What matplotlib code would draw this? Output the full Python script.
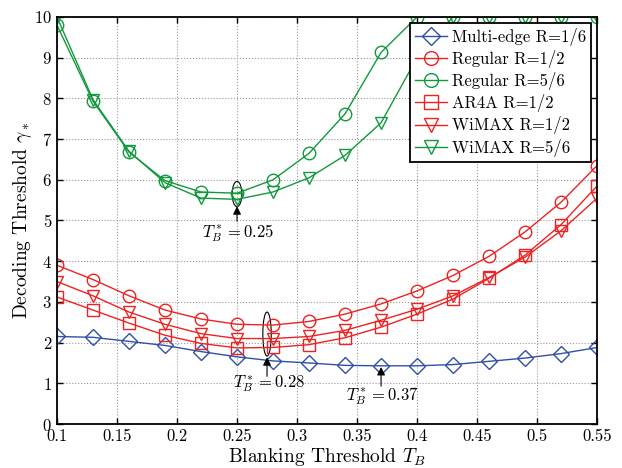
import matplotlib
matplotlib.use('Agg')
import matplotlib.pyplot as plt
from matplotlib.patches import Ellipse

plt.rcParams['font.family'] = 'serif'
plt.rcParams['font.serif'] = ['cmr10']
plt.rcParams['mathtext.fontset'] = 'cm'
plt.rcParams['axes.formatter.use_mathtext'] = True

# blanking threshold values
t_b = [0.10, 0.13, 0.16, 0.19, 0.22, 0.25, 0.28, 0.31, 0.34, 0.37, 0.40, 0.43, 0.46, 0.49, 0.52, 0.55]

multi_edge_16 = [2.15, 2.13, 2.03, 1.93, 1.78, 1.65, 1.55, 1.50, 1.44, 1.43, 1.43, 1.46, 1.54, 1.62, 1.73, 1.88]
regular_12 = [3.90, 3.55, 3.15, 2.80, 2.58, 2.45, 2.43, 2.52, 2.70, 2.95, 3.27, 3.65, 4.12, 4.72, 5.45, 6.35]
regular_56 = [9.80, 7.93, 6.68, 5.98, 5.70, 5.67, 6.00, 6.65, 7.62, 9.13, 10.0, 10.0, 10.0, 10.0, 10.0, 10.0]
ar4a_12 = [3.12, 2.80, 2.48, 2.18, 1.98, 1.87, 1.88, 1.95, 2.12, 2.38, 2.70, 3.07, 3.58, 4.15, 4.90, 5.85]
wimax_12 = [3.50, 3.15, 2.75, 2.45, 2.22, 2.10, 2.10, 2.15, 2.30, 2.55, 2.82, 3.15, 3.60, 4.10, 4.75, 5.55]
wimax_56 = [10.0, 7.97, 6.70, 5.93, 5.55, 5.52, 5.70, 6.05, 6.60, 7.40, 9.00, 10.0, 10.0, 10.0, 10.0, 10.0]

blue = '#3050A8'
red = '#EE2222'
green = '#12993E'

fig = plt.figure(figsize=(6.22, 4.68), dpi=100)
ax = fig.add_axes([0.0916, 0.094, 0.8684, 0.8697])

mk = dict(markersize=9, markerfacecolor='none', linewidth=1.0, markeredgewidth=1.0)
ax.plot(t_b, multi_edge_16, color=blue, marker='D', label='Multi-edge R=1/6', markersize=8,
        markerfacecolor='none', linewidth=1.0, markeredgewidth=1.0)
ax.plot(t_b, regular_12, color=red, marker='o', label='Regular R=1/2', **mk)
ax.plot(t_b, regular_56, color=green, marker='o', label='Regular R=5/6', **mk)
ax.plot(t_b, ar4a_12, color=red, marker='s', label='AR4A R=1/2', **mk)
ax.plot(t_b, wimax_12, color=red, marker='v', label='WiMAX R=1/2', **mk)
ax.plot(t_b, wimax_56, color=green, marker='v', label='WiMAX R=5/6', **mk)

# annotations for optimum thresholds
arr = dict(arrowstyle='-|>', color='k', lw=0.8, mutation_scale=12, shrinkA=0, shrinkB=0)
ax.add_patch(Ellipse((0.25, 5.65), 0.008, 0.62, fill=False, color='k', lw=0.8))
ax.annotate('', xy=(0.25, 5.35), xytext=(0.25, 4.98), arrowprops=arr)
ax.text(0.251, 4.69, r'$T_B^* = 0.25$', ha='center', va='center', fontsize=12)

ax.add_patch(Ellipse((0.275, 2.21), 0.007, 1.08, fill=False, color='k', lw=0.8))
ax.annotate('', xy=(0.275, 1.64), xytext=(0.275, 1.17), arrowprops=arr)
ax.text(0.277, 0.96, r'$T_B^* = 0.28$', ha='center', va='center', fontsize=12)

ax.annotate('', xy=(0.37, 1.4), xytext=(0.37, 0.93), arrowprops=arr)
ax.text(0.371, 0.67, r'$T_B^* = 0.37$', ha='center', va='center', fontsize=12)

ax.set_xlim(0.1, 0.55)
ax.set_ylim(0, 10)
ax.set_xticks([0.1, 0.15, 0.2, 0.25, 0.3, 0.35, 0.4, 0.45, 0.5, 0.55])
ax.set_xticklabels(['0.1', '0.15', '0.2', '0.25', '0.3', '0.35', '0.4', '0.45', '0.5', '0.55'])
ax.set_yticks(range(0, 11))
ax.tick_params(direction='in', top=True, right=True, labelsize=12, length=4, width=1.0)
for s in ax.spines.values():
    s.set_linewidth(1.3)
ax.grid(True, linestyle=':', color='#999999', linewidth=0.8)
ax.set_xlabel(r'Blanking Threshold $T_B$', fontsize=14, labelpad=1)
ax.set_ylabel(r'Decoding Threshold $\gamma_*$', fontsize=14, labelpad=0)

leg = ax.legend(loc='upper right', fontsize=12, fancybox=False, edgecolor='k',
                framealpha=1, handlelength=1.9, handletextpad=0.3, borderpad=0.3,
                borderaxespad=0.35, labelspacing=0.25, markerscale=1.1)
leg.get_frame().set_linewidth(1.3)

fig.savefig('out.png', dpi=100)
